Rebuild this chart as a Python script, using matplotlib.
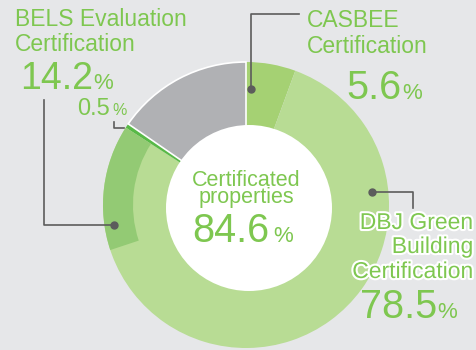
import matplotlib
matplotlib.use("Agg")
import matplotlib.pyplot as plt
import matplotlib.patheffects as pe
from matplotlib.patches import Circle

plt.rcParams['font.family'] = ['Liberation Sans', 'DejaVu Sans']

# ---- data (share of properties, %)
slice_names = ['CASBEE', 'DBJ Green Building', '0.5% other', 'Not certificated']
slice_values = [5.6, 78.5, 0.5, 15.4]
bels_value = 14.2
certified_total = 84.6

# ---- colours
bg = '#e6e7e9'
txt_green = '#7ec750'
slice_colors = ['#a5d173', '#b8dc94', '#58b947', '#b0b1b4']
bels_color = '#93ca74'
line_col = '#5c5c5c'

fig = plt.figure(figsize=(4.77, 3.5), dpi=100, facecolor=bg)
ax = fig.add_axes([0, 0, 1, 1])

H = 350  # y in pixels from top -> data y
def Y(p):
    return H - p

cx, cy, R = 246, Y(205), 143

# outer ring
wedges, _ = ax.pie(slice_values, colors=slice_colors, startangle=90, counterclock=False,
                   radius=R, center=(cx, cy), frame=True,
                   wedgeprops=dict(width=66, linewidth=0))
wedges[3].set_edgecolor('white')
wedges[3].set_linewidth(1.2)

# BELS band overlaid on outer part of the ring, ending where the 0.5% slice starts
before = slice_values[0] + slice_values[1] - bels_value
after = 100 - before - bels_value
band, _ = ax.pie([before, bels_value, after], colors=['none', bels_color, 'none'],
                 startangle=90, counterclock=False, radius=R, center=(cx, cy), frame=True,
                 wedgeprops=dict(width=30, linewidth=0))
ax.set_xlim(0, 477)
ax.set_ylim(0, 350)
ax.set_aspect('equal')
ax.axis('off')

# white hole
ax.add_patch(Circle((249, Y(208)), 83, facecolor='white', edgecolor='none', zorder=3))

# ---- centre text
ax.text(246, Y(203), 'Certificated\nproperties', ha='center', va='baseline', fontsize=15.5,
        color=txt_green, zorder=4, linespacing=0.72, multialignment='center')
ax.text(192, Y(242), f'{certified_total:.1f}', ha='left', va='baseline', fontsize=28.5, color=txt_green, zorder=4)
ax.text(273, Y(242), '%', ha='left', va='baseline', fontsize=16, color=txt_green, zorder=4)

# ---- callout lines
def dot(x, y):
    ax.plot([x], [Y(y)], 'o', color=line_col, ms=5, zorder=5)

# CASBEE
ax.plot([299, 251, 251], [Y(14), Y(14), Y(89)], color=line_col, lw=1.2, zorder=5)
dot(251, 89)
# DBJ
ax.plot([372, 413, 413], [Y(192), Y(192), Y(208)], color=line_col, lw=1.2, zorder=5)
dot(372, 192)
# BELS
ax.plot([44, 44, 114], [Y(100), Y(225), Y(225)], color=line_col, lw=1.2, zorder=5)
dot(114, 225)
# 0.5%
ax.plot([114, 114, 124], [Y(122), Y(128), Y(128)], color=line_col, lw=1.2, zorder=5)

# ---- labels
lab = dict(fontsize=16.5, color=txt_green, va='baseline')
ax.text(15, Y(26), 'BELS Evaluation', ha='left', **lab)
ax.text(15, Y(51), 'Certification', ha='left', **lab)
ax.text(20, Y(89), f'{bels_value:.1f}', ha='left', va='baseline', fontsize=27, color=txt_green)
ax.text(93, Y(89), '%', ha='left', va='baseline', fontsize=16, color=txt_green)

ax.text(77, Y(115), f'{slice_values[2]:.1f}', ha='left', va='baseline', fontsize=17, color=txt_green)
ax.text(112, Y(115), '%', ha='left', va='baseline', fontsize=11.5, color=txt_green)

ax.text(307, Y(27), 'CASBEE', ha='left', **lab)
ax.text(307, Y(53), 'Certification', ha='left', **lab)
ax.text(346, Y(99), f'{slice_values[0]:.1f}', ha='left', va='baseline', fontsize=28.5, color=txt_green)
ax.text(402, Y(99), '%', ha='left', va='baseline', fontsize=16, color=txt_green)

halo = [pe.withStroke(linewidth=3, foreground='white')]
for txt, yb in [('DBJ Green', 229), ('Building', 253), ('Certification', 278)]:
    ax.text(473, Y(yb), txt, ha='right', path_effects=halo, **lab)
ax.text(360, Y(318), f'{slice_values[1]:.1f}', ha='left', va='baseline', fontsize=28.5, color=txt_green)
ax.text(437, Y(318), '%', ha='left', va='baseline', fontsize=16, color=txt_green)

fig.savefig('out.png', dpi=100, facecolor=bg)
